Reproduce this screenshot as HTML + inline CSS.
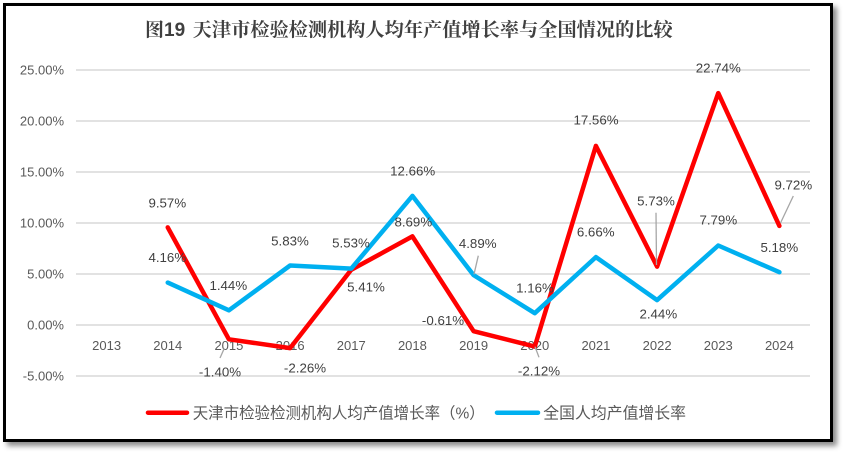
<!DOCTYPE html>
<html><head><meta charset="utf-8"><style>
html,body{margin:0;padding:0;background:#fff;width:844px;height:452px;overflow:hidden;}
.box{position:absolute;left:3px;top:3px;width:830px;height:439px;box-sizing:border-box;border:3px solid #000;background:#fff;box-shadow:4px 4px 5px rgba(0,0,0,0.45);}
svg{position:absolute;left:0;top:0;}
</style></head><body>
<div class="box"></div>
<svg width="844" height="452" viewBox="0 0 844 452" xmlns="http://www.w3.org/2000/svg">
<!-- title -->
<text x="145" y="36" font-family="'Liberation Serif','Noto Serif CJK SC',serif" font-weight="bold" font-size="19" fill="#404040">图<tspan font-family="'Liberation Sans',sans-serif">19</tspan></text>
<text x="192.7" y="36" font-family="'Liberation Serif','Noto Serif CJK SC',serif" font-weight="bold" font-size="19" fill="#404040" textLength="480" lengthAdjust="spacingAndGlyphs">天津市检验检测机构人均年产值增长率与全国情况的比较</text>

<!-- grid -->
<g stroke="#D9D9D9" stroke-width="1.5">
<line x1="76" y1="70" x2="810" y2="70"/>
<line x1="76" y1="121" x2="810" y2="121"/>
<line x1="76" y1="172" x2="810" y2="172"/>
<line x1="76" y1="223" x2="810" y2="223"/>
<line x1="76" y1="274" x2="810" y2="274"/>
<line x1="76" y1="325" x2="810" y2="325"/>
<line x1="76" y1="376" x2="810" y2="376"/>
</g>

<!-- y labels -->
<g font-family="'Liberation Sans',sans-serif" font-size="13" fill="#595959" text-anchor="end">
<text x="64" y="74.7">25.00%</text>
<text x="64" y="125.7">20.00%</text>
<text x="64" y="176.7">15.00%</text>
<text x="64" y="227.7">10.00%</text>
<text x="64" y="278.7">5.00%</text>
<text x="64" y="329.7">0.00%</text>
<text x="64" y="380.7">-5.00%</text>
</g>

<!-- x labels -->
<g font-family="'Liberation Sans',sans-serif" font-size="13" fill="#595959" text-anchor="middle">
<text x="106.6" y="350">2013</text>
<text x="167.75" y="350">2014</text>
<text x="228.9" y="350">2015</text>
<text x="290.1" y="350">2016</text>
<text x="351.25" y="350">2017</text>
<text x="412.4" y="350">2018</text>
<text x="473.6" y="350">2019</text>
<text x="534.75" y="350">2020</text>
<text x="595.9" y="350">2021</text>
<text x="657.1" y="350">2022</text>
<text x="718.25" y="350">2023</text>
<text x="779.4" y="350">2024</text>
</g>

<!-- series -->
<polyline fill="none" stroke="#FF0000" stroke-width="4.5" stroke-linejoin="round" stroke-linecap="round"
points="167.75,227.4 228.9,339.3 290.1,348.1 351.25,269.8 412.4,236.4 473.6,331.2 534.75,346.6 595.9,145.9 657.1,266.6 718.25,93.1 779.4,225.9"/>
<polyline fill="none" stroke="#00B0F0" stroke-width="4.5" stroke-linejoin="round" stroke-linecap="round"
points="167.75,282.6 228.9,310.3 290.1,265.5 351.25,268.6 412.4,195.9 473.6,275.1 534.75,313.2 595.9,257.1 657.1,300.1 718.25,245.5 779.4,272.2"/>

<!-- leader lines -->
<g stroke="#A6A6A6" stroke-width="1.3">
<line x1="220" y1="358" x2="224.3" y2="348.3"/>
<line x1="478.3" y1="255.7" x2="474" y2="274.3"/>
<line x1="535" y1="346.7" x2="539" y2="357.3"/>
<line x1="656" y1="212.7" x2="656.5" y2="265"/>
<line x1="793.3" y1="196" x2="780.5" y2="223"/>
</g>

<!-- data labels -->
<g font-family="'Liberation Sans',sans-serif" font-size="13.3" fill="#404040" text-anchor="middle">
<text x="167.3" y="207.4">9.57%</text>
<text x="167.3" y="262">4.16%</text>
<text x="228.3" y="290">1.44%</text>
<text x="220" y="376.4">-1.40%</text>
<text x="290" y="245.4">5.83%</text>
<text x="305" y="372.4">-2.26%</text>
<text x="351" y="247.4">5.53%</text>
<text x="366" y="291.4">5.41%</text>
<text x="412.7" y="175.4">12.66%</text>
<text x="413.3" y="226.4">8.69%</text>
<text x="477.7" y="248">4.89%</text>
<text x="443" y="325">-0.61%</text>
<text x="535" y="292.4">1.16%</text>
<text x="539" y="375.4">-2.12%</text>
<text x="596" y="124.7">17.56%</text>
<text x="595.7" y="236.4">6.66%</text>
<text x="656" y="205.4">5.73%</text>
<text x="658.3" y="318.7">2.44%</text>
<text x="718.3" y="72.4">22.74%</text>
<text x="718.3" y="224.7">7.79%</text>
<text x="793.3" y="189.7">9.72%</text>
<text x="779.3" y="252">5.18%</text>
</g>

<!-- legend -->
<line x1="148" y1="412.7" x2="187" y2="412.7" stroke="#FF0000" stroke-width="4.5" stroke-linecap="round"/>
<text x="192.7" y="418.5" font-family="'Liberation Sans','Noto Sans CJK SC',sans-serif" font-size="15.7" fill="#595959" textLength="292" lengthAdjust="spacingAndGlyphs">天津市检验检测机构人均产值增长率（%）</text>
<line x1="497" y1="412.7" x2="538" y2="412.7" stroke="#00B0F0" stroke-width="4.5" stroke-linecap="round"/>
<text x="543.3" y="418.5" font-family="'Liberation Sans','Noto Sans CJK SC',sans-serif" font-size="15.8" fill="#595959" textLength="142.7" lengthAdjust="spacingAndGlyphs">全国人均产值增长率</text>
</svg>
</body></html>
